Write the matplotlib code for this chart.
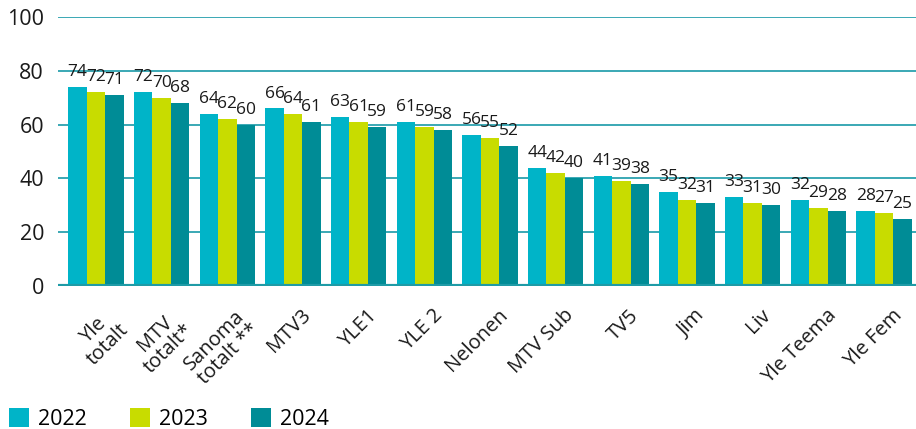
import matplotlib.pyplot as plt
import numpy as np

plt.rcParams['font.family'] = ['Open Sans', 'DejaVu Sans']

channels = ["Yle\ntotalt", "MTV\ntotalt*", "Sanoma\ntotalt **", "MTV3", "YLE1", "YLE 2",
            "Nelonen", "MTV Sub", "TV5", "Jim", "Liv", "Yle Teema", "Yle Fem"]
years = ["2022", "2023", "2024"]
v2022 = [74, 72, 64, 66, 63, 61, 56, 44, 41, 35, 33, 32, 28]
v2023 = [72, 70, 62, 64, 61, 59, 55, 42, 39, 32, 31, 29, 27]
v2024 = [71, 68, 60, 61, 59, 58, 52, 40, 38, 31, 30, 28, 25]
colors = ["#00b4c8", "#c8dc00", "#008c96"]

fig = plt.figure(figsize=(9.16, 4.29), dpi=100)
ax = fig.add_axes([58/916, 1 - 286/429, 1 - 58/916, (286 - 17)/429])

x = np.arange(len(channels))
w = 0.28
for i, (vals, c, lab) in enumerate(zip([v2022, v2023, v2024], colors, years)):
    bars = ax.bar(x + (i - 1) * w, vals, width=w, color=c, label=lab, zorder=3)
    ax.bar_label(bars, padding=5, fontsize=12.5, color="#1a1a1a")

ax.set_ylim(0, 100)
ax.set_xlim(-0.579, 12.487)
ax.set_yticks([0, 20, 40, 60, 80, 100])
ax.yaxis.grid(True, color="#3aa8b4", linewidth=1.4, zorder=0)
ax.axhline(0, color="#1f9ba6", linewidth=3, zorder=4)
for s in ax.spines.values():
    s.set_visible(False)
ax.tick_params(axis="y", length=0, labelsize=15.5, pad=10, labelcolor="#1a1a1a")
ax.tick_params(axis="x", length=0)

ax.set_xticks(x + 0.12)
ax.set_xticklabels(channels, rotation=45, ha="right", va="top", rotation_mode="anchor",
                   fontsize=14.5, multialignment="center", color="#1a1a1a",
                   linespacing=1.0)
ax.tick_params(axis="x", pad=14)

fig.legend(loc="upper left", bbox_to_anchor=(9/916, 1 - 408/429), ncol=3, frameon=False,
           fontsize=15.5, handlelength=0.95, handleheight=0.95, handletextpad=0.4,
           columnspacing=2.0, borderpad=0, borderaxespad=0)

plt.savefig("out.png", dpi=100)
